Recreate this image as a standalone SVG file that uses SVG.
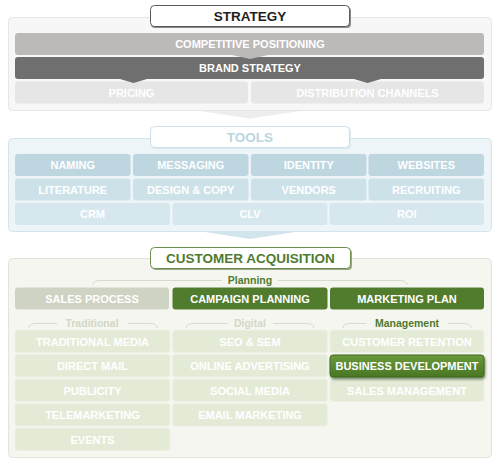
<svg xmlns="http://www.w3.org/2000/svg" width="500" height="466" viewBox="0 0 500 466">
<defs>
<style>
text{font-family:"Liberation Sans",Arial,Helvetica,sans-serif;font-weight:bold;text-anchor:middle}
.cell{font-size:11px;fill:#ffffff}
.hdr{font-size:13.5px}
.lbl{font-size:10.5px}
.panel{stroke-width:1}
</style>
<linearGradient id="bd" x1="0" y1="0" x2="0" y2="1">
<stop offset="0" stop-color="#6a9a3c"/>
<stop offset="1" stop-color="#4a7624"/>
</linearGradient>
<filter id="glow" x="-10%" y="-30%" width="120%" height="170%">
<feDropShadow dx="1" dy="2" stdDeviation="1.2" flood-color="#2f4a17" flood-opacity="0.6"/>
</filter>
</defs>
<rect width="500" height="466" fill="#ffffff"/>

<!-- STRATEGY -->
<g id="strategy-panel">
<rect x="8.5" y="17.5" width="483" height="93" rx="4" fill="#f7f7f7" stroke="#e6e6e6"/>
</g>
<g id="competitive-positioning">
<rect x="15" y="33" width="469" height="22" rx="3" fill="#bcb9b9"/>
<text class="cell" x="250" y="48" fill="#f2f2f2">COMPETITIVE POSITIONING</text>
</g>
<g id="brand-strategy">
<rect x="15" y="57" width="469" height="22" rx="3" fill="#6f6f6f"/>
<text class="cell" x="250" y="72">BRAND STRATEGY</text>
</g>
<g id="pricing">
<rect x="15" y="81.5" width="233" height="22" rx="3" fill="#e6e6e6"/>
<text class="cell" x="131.5" y="96.5" fill="#f9f9f9">PRICING</text>
</g>
<g id="distribution-channels">
<rect x="251" y="81.5" width="233" height="22" rx="3" fill="#e6e6e6"/>
<text class="cell" x="367.5" y="96.5" fill="#f9f9f9">DISTRIBUTION CHANNELS</text>
</g>
<g id="strategy-header">
<rect x="151" y="7" width="200" height="21" rx="4" fill="#8a8a8a"/>
<rect x="150.5" y="5.5" width="199" height="21" rx="4" fill="#ffffff" stroke="#5a5a5a"/>
<text class="hdr" x="250" y="21" fill="#1e1e1e">STRATEGY</text>
</g>

<!-- TOOLS -->
<g id="tools-panel">
<rect x="8.5" y="138.5" width="483" height="93" rx="4" fill="#eef5f8" stroke="#d3e5ec"/>
</g>
<g id="naming"><rect x="15" y="154" width="115.5" height="22" rx="3" fill="#bdd6e0"/><text class="cell" x="72.75" y="169">NAMING</text></g>
<g id="messaging"><rect x="133" y="154" width="115.5" height="22" rx="3" fill="#bdd6e0"/><text class="cell" x="190.75" y="169">MESSAGING</text></g>
<g id="identity"><rect x="251" y="154" width="115.5" height="22" rx="3" fill="#bdd6e0"/><text class="cell" x="308.75" y="169">IDENTITY</text></g>
<g id="websites"><rect x="368.5" y="154" width="115.5" height="22" rx="3" fill="#bdd6e0"/><text class="cell" x="426.25" y="169">WEBSITES</text></g>
<g id="literature"><rect x="15" y="178.5" width="115.5" height="22" rx="3" fill="#cde1e9"/><text class="cell" x="72.75" y="193.5">LITERATURE</text></g>
<g id="design-copy"><rect x="133" y="178.5" width="115.5" height="22" rx="3" fill="#cde1e9"/><text class="cell" x="190.75" y="193.5">DESIGN &amp; COPY</text></g>
<g id="vendors"><rect x="251" y="178.5" width="115.5" height="22" rx="3" fill="#cde1e9"/><text class="cell" x="308.75" y="193.5">VENDORS</text></g>
<g id="recruiting"><rect x="368.5" y="178.5" width="115.5" height="22" rx="3" fill="#cde1e9"/><text class="cell" x="426.25" y="193.5">RECRUITING</text></g>
<g id="crm"><rect x="15" y="203" width="155" height="22" rx="3" fill="#d6e7ee"/><text class="cell" x="92.5" y="218">CRM</text></g>
<g id="clv"><rect x="172.5" y="203" width="155" height="22" rx="3" fill="#d6e7ee"/><text class="cell" x="250" y="218">CLV</text></g>
<g id="roi"><rect x="329.5" y="203" width="154.5" height="22" rx="3" fill="#d6e7ee"/><text class="cell" x="406.75" y="218">ROI</text></g>
<g id="tools-header">
<rect x="151" y="128" width="200" height="21" rx="4" fill="#dce9ef"/>
<rect x="150.5" y="126.5" width="199" height="21" rx="4" fill="#ffffff" stroke="#cde0e8"/>
<text class="hdr" x="250" y="142" fill="#bcd5df">TOOLS</text>
</g>

<!-- CUSTOMER ACQUISITION -->
<g id="ca-panel">
<rect x="8.5" y="258.5" width="483" height="199" rx="4" fill="#f6f6f1" stroke="#e3e3da"/>
</g>
<g id="planning-label"><text class="lbl" x="250" y="284" fill="#4f7a2f">Planning</text></g>
<g id="traditional-label"><text class="lbl" x="92" y="327" fill="#d1d8c5">Traditional</text></g>
<g id="digital-label"><text class="lbl" x="250" y="327" fill="#d1d8c5">Digital</text></g>
<g id="management-label"><text class="lbl" x="407" y="327" fill="#4f7a2f">Management</text></g>

<g id="sales-process"><rect x="15" y="287.5" width="154" height="22" rx="3" fill="#cfd3c4"/><text class="cell" x="92" y="302.5">SALES PROCESS</text></g>
<g id="campaign-planning"><rect x="172.5" y="287.5" width="155" height="22" rx="3" fill="#517c2e"/><text class="cell" x="250" y="302.5">CAMPAIGN PLANNING</text></g>
<g id="marketing-plan"><rect x="330" y="287.5" width="154" height="22" rx="3" fill="#517c2e"/><text class="cell" x="407" y="302.5">MARKETING PLAN</text></g>

<g id="traditional-media"><rect x="15" y="330" width="155" height="22.5" rx="3" fill="#e3ebd7" stroke="#ecf1e4"/><text class="cell" x="92.5" y="345.5">TRADITIONAL MEDIA</text></g>
<g id="direct-mail"><rect x="15" y="354.5" width="155" height="22.5" rx="3" fill="#e3ebd7" stroke="#ecf1e4"/><text class="cell" x="92.5" y="370">DIRECT MAIL</text></g>
<g id="publicity"><rect x="15" y="379" width="155" height="22.5" rx="3" fill="#e3ebd7" stroke="#ecf1e4"/><text class="cell" x="92.5" y="394.5">PUBLICITY</text></g>
<g id="telemarketing"><rect x="15" y="403.5" width="155" height="22.5" rx="3" fill="#e3ebd7" stroke="#ecf1e4"/><text class="cell" x="92.5" y="419">TELEMARKETING</text></g>
<g id="events"><rect x="15" y="428" width="155" height="22.5" rx="3" fill="#e3ebd7" stroke="#ecf1e4"/><text class="cell" x="92.5" y="443.5">EVENTS</text></g>

<g id="seo-sem"><rect x="172.5" y="330" width="155" height="22.5" rx="3" fill="#e3ebd7" stroke="#ecf1e4"/><text class="cell" x="250" y="345.5">SEO &amp; SEM</text></g>
<g id="online-advertising"><rect x="172.5" y="354.5" width="155" height="22.5" rx="3" fill="#e3ebd7" stroke="#ecf1e4"/><text class="cell" x="250" y="370">ONLINE ADVERTISING</text></g>
<g id="social-media"><rect x="172.5" y="379" width="155" height="22.5" rx="3" fill="#e3ebd7" stroke="#ecf1e4"/><text class="cell" x="250" y="394.5">SOCIAL MEDIA</text></g>
<g id="email-marketing"><rect x="172.5" y="403.5" width="155" height="22.5" rx="3" fill="#e3ebd7" stroke="#ecf1e4"/><text class="cell" x="250" y="419">EMAIL MARKETING</text></g>

<g id="customer-retention"><rect x="330" y="330" width="154" height="22.5" rx="3" fill="#e3ebd7" stroke="#ecf1e4"/><text class="cell" x="407" y="345.5">CUSTOMER RETENTION</text></g>
<g id="sales-management"><rect x="330" y="379" width="154" height="22.5" rx="3" fill="#e3ebd7" stroke="#ecf1e4"/><text class="cell" x="407" y="394.5">SALES MANAGEMENT</text></g>
<g id="business-development"><rect x="330" y="355" width="154" height="22" rx="3" fill="url(#bd)" stroke="#3f6a1e" filter="url(#glow)"/><text class="cell" x="407" y="370">BUSINESS DEVELOPMENT</text></g>

<g id="ca-header">
<rect x="152" y="249" width="200" height="21" rx="4" fill="#9aa58c"/>
<rect x="150.5" y="247.5" width="200" height="21" rx="4" fill="#ffffff" stroke="#6a8f4a"/>
<text class="hdr" x="250.5" y="263" fill="#4f7a2f">CUSTOMER ACQUISITION</text>
</g>

<!-- connectors -->
<g id="connectors" fill="none">
<polygon points="200,111 250,118.5 300,111" fill="#ededed"/>
<polygon points="205,232 250,239 295,232" fill="#d3e5ec"/>
<polygon points="232,55 250,59 268,55" fill="#bcb9b9"/>
<polygon points="120,79 133.5,83 147,79" fill="#6f6f6f"/>
<polygon points="354,79 367.5,83 381,79" fill="#6f6f6f"/>
<path d="M93 285 Q93 280.5 100 280.5 L222 280.5 M278 280.5 L400 280.5 Q407 280.5 407 285" stroke="#d7dbcd"/>
<path d="M29 328 Q29 323.5 36 323.5 L57 323.5 M128 323.5 L150 323.5 Q157 323.5 157 328" stroke="#d7dbcd"/>
<path d="M186 328 Q186 323.5 193 323.5 L228 323.5 M273 323.5 L307 323.5 Q314 323.5 314 328" stroke="#d7dbcd"/>
<path d="M343 328 Q343 323.5 350 323.5 L366 323.5 M448 323.5 L464 323.5 Q471 323.5 471 328" stroke="#d7dbcd"/>
</g>
</svg>
